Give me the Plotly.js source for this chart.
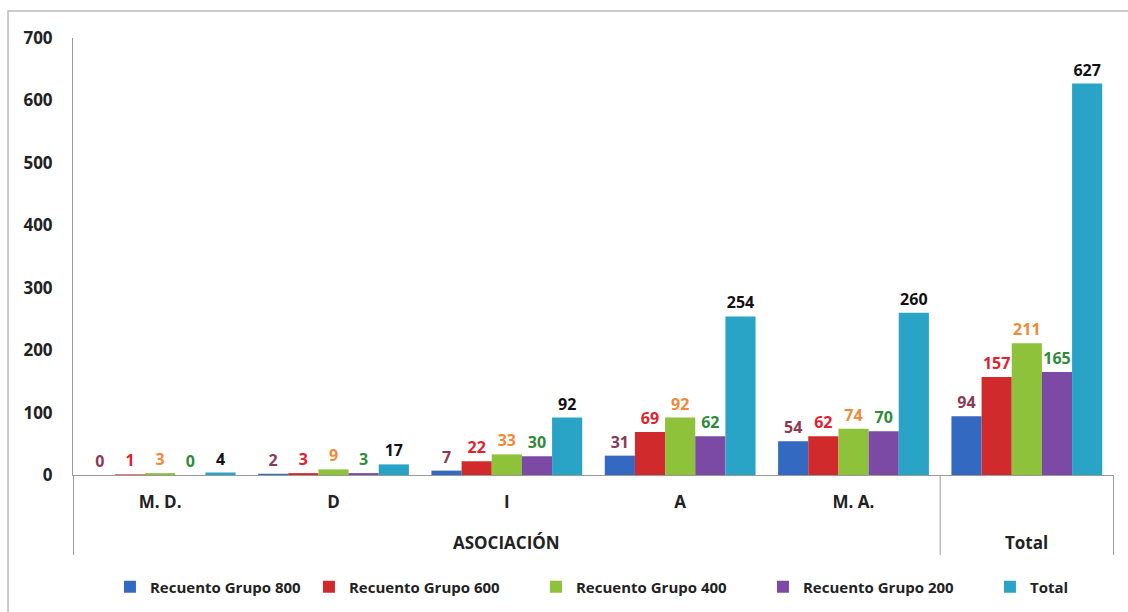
<!DOCTYPE html>
<html>
<head>
<meta charset="utf-8">
<script src="https://cdn.plot.ly/plotly-3.0.1.min.js"></script>
<style>html,body{margin:0;padding:0;background:#fff;}#chart{width:1128px;height:612px;}</style>
</head>
<body>
<div id="chart"></div>
<script>
var outerGroups = ["ASOCIACIÓN","ASOCIACIÓN","ASOCIACIÓN","ASOCIACIÓN","ASOCIACIÓN","Total"];
var categories = ["M. D.","D","I","A","M. A.","Total"];
var tickLabels = ["M. D.","D","I","A","M. A.",""];
var seriesNames = ["Recuento Grupo 800","Recuento Grupo 600","Recuento Grupo 400","Recuento Grupo 200","Total"];
var grupo800 = [0, 2, 7, 31, 54, 94];
var grupo600 = [1, 3, 22, 69, 62, 157];
var grupo400 = [3, 9, 33, 92, 74, 211];
var grupo200 = [0, 3, 30, 62, 70, 165];
var total = [4, 17, 92, 254, 260, 627];
var yTicks = [0,100,200,300,400,500,600,700];

var barColors = ["#3469C2","#D02A2C","#8EC23A","#7B4AA5","#29A3C6"];
var labelColors = ["#8B3A55","#E3202F","#F08A3A","#2E8B3A","#111111"];
var legendWidths = [154, 182, 182, 182, null];
var allSeries = [grupo800, grupo600, grupo400, grupo200, total];
var FONT = "Open Sans, Liberation Sans, sans-serif";

var traces = allSeries.map(function(vals, i){
  var t = {
    type: "bar",
    name: seriesNames[i],
    x: categories,
    y: vals,
    marker: {color: barColors[i]},
    text: vals.map(String),
    textposition: "outside",
    cliponaxis: false,
    textfont: {family: FONT, size: 16, weight: "bold", color: labelColors[i]},
    hoverinfo: "y+name"
  };
  if (legendWidths[i]) t.legendwidth = legendWidths[i];
  return t;
});

// outer group labels and dividers, derived from outerGroups
var groups = [];
outerGroups.forEach(function(g, i){
  if (!groups.length || groups[groups.length-1].name !== g) groups.push({name: g, start: i, end: i});
  else groups[groups.length-1].end = i;
});
var divY = -0.183, outerY = -0.1556;
var shapes = [{type: "rect", xref: "paper", yref: "paper", x0: -0.0624, x1: 1.3, y0: -0.6, y1: 1.0618,
               line: {color: "#BBBBBB", width: 1.5}, fillcolor: "rgba(0,0,0,0)", layer: "below"}];
var annotations = [];
groups.forEach(function(g, k){
  if (k === 0) shapes.push({type: "line", xref: "x", yref: "paper", x0: g.start - 0.5, x1: g.start - 0.5, y0: 0, y1: divY, line: {color: "#999", width: 1}});
  shapes.push({type: "line", xref: "x", yref: "paper", x0: g.end + 0.5, x1: g.end + 0.5, y0: 0, y1: divY, line: {color: "#999", width: 1}});
  annotations.push({xref: "x", yref: "paper", x: (g.start + g.end) / 2, y: outerY, text: g.name, showarrow: false,
                    xanchor: "center", yanchor: "middle",
                    font: {family: FONT, size: 17, weight: "bold", color: "#222"}});
});

var layout = {
  width: 1128, height: 612,
  margin: {l: 73, r: 14, t: 38, b: 137, autoexpand: false},
  paper_bgcolor: "#fff", plot_bgcolor: "#fff",
  barmode: "group", bargap: 0.13, bargroupgap: 0,
  font: {family: FONT, size: 14, color: "#222"},
  showlegend: true,
  legend: {orientation: "h", x: 0.0355, xanchor: "left", yref: "container", y: 0.041, yanchor: "middle",
           font: {family: FONT, size: 15, weight: "bold", color: "#222"}},
  xaxis: {type: "category", showline: true, linecolor: "#999", linewidth: 1,
          tickmode: "array", tickvals: categories, ticktext: tickLabels,
          ticks: "", ticklabelstandoff: 12, automargin: false,
          tickfont: {family: FONT, size: 17, weight: "bold", color: "#222"},
          showgrid: false, zeroline: false, fixedrange: true},
  yaxis: {range: [0, 700], tickvals: yTicks, ticktext: yTicks.map(String),
          showline: true, linecolor: "#999", linewidth: 1, ticks: "", automargin: false,
          showgrid: false, zeroline: false, ticklabelstandoff: 16,
          tickfont: {family: FONT, size: 17, weight: "bold", color: "#222"}, fixedrange: true},
  shapes: shapes,
  annotations: annotations
};

Plotly.newPlot("chart", traces, layout, {displayModeBar: false, staticPlot: true});
</script>
</body>
</html>
